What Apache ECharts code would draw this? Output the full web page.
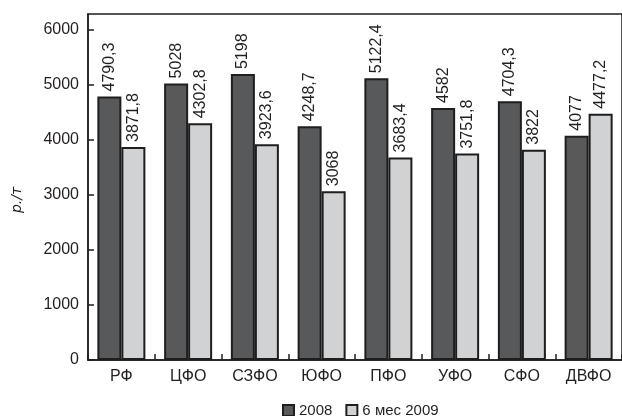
<!DOCTYPE html>
<html>
<head>
<meta charset="utf-8">
<script src="https://cdn.jsdelivr.net/npm/echarts@6/dist/echarts.min.js"></script>
<style>
  html, body { margin: 0; padding: 0; background: #fff; }
  #chart { width: 622px; height: 416px; }
</style>
</head>
<body>
<div id="chart"></div>
<script>
// Федеральные округа
const regions = ['РФ', 'ЦФО', 'СЗФО', 'ЮФО', 'ПФО', 'УФО', 'СФО', 'ДВФО'];
// Средняя цена, р./т
const price2008 = [4790.3, 5028, 5198, 4248.7, 5122.4, 4582, 4704.3, 4077];
const price2009h1 = [3871.8, 4302.8, 3923.6, 3068, 3683.4, 3751.8, 3822, 4477.2];
const seriesNames = ['2008', '6 мес 2009'];
const yTicks = [0, 1000, 2000, 3000, 4000, 5000, 6000];

const FONT = '"Liberation Sans", Arial, sans-serif';
const INK = '#231f20';
const EDGE = '#1e1e1e';

const fmt = v => String(v).replace('.', ',');

const barLabel = {
  show: true,
  position: 'top',
  rotate: 90,
  align: 'left',
  verticalAlign: 'middle',
  distance: 5,
  color: INK,
  fontFamily: FONT,
  fontSize: 16,
  formatter: p => fmt(p.value)
};

const chart = echarts.init(document.getElementById('chart'), null, { renderer: 'canvas' });

chart.setOption({
  animation: false,
  backgroundColor: '#ffffff',
  grid: {
    left: 88, right: -12, top: 14, bottom: 56,
    show: true, borderColor: EDGE, borderWidth: 1.5, backgroundColor: 'transparent'
  },
  legend: {
    left: 277, top: 398,
    itemWidth: 11, itemHeight: 11, itemGap: 13,
    icon: 'rect',
    textStyle: { color: INK, fontFamily: FONT, fontSize: 15 },
    data: seriesNames
  },
  xAxis: {
    type: 'category',
    data: regions,
    axisLine: { lineStyle: { color: EDGE, width: 1.5 } },
    axisTick: { show: true, inside: true, length: 6, alignWithLabel: false, lineStyle: { color: EDGE, width: 1.5 } },
    axisLabel: { color: INK, fontFamily: FONT, fontSize: 16, margin: 9 },
    splitLine: { show: false }
  },
  yAxis: {
    type: 'value',
    min: yTicks[0],
    max: 6290,
    interval: 1000,
    axisLine: { show: true, lineStyle: { color: EDGE, width: 1.5 } },
    axisTick: { show: true, inside: true, length: 6, lineStyle: { color: EDGE, width: 1.5 } },
    axisLabel: {
      color: INK, fontFamily: FONT, fontSize: 16, margin: 9,
      showMaxLabel: false,
      formatter: v => (yTicks.includes(v) ? String(v) : '')
    },
    splitLine: { show: false }
  },
  graphic: [{
    type: 'text',
    x: 17, y: 200,
    rotation: Math.PI / 2,
    style: {
      text: 'р./т',
      fill: INK,
      font: 'oblique 14px "DejaVu Sans", sans-serif',
      textAlign: 'center',
      textVerticalAlign: 'middle'
    }
  }],
  series: [
    {
      name: seriesNames[0],
      type: 'bar',
      data: price2008,
      barWidth: 24,
      barGap: '0%',
      itemStyle: { color: '#58595b', borderColor: EDGE, borderWidth: 2 },
      label: barLabel
    },
    {
      name: seriesNames[1],
      type: 'bar',
      data: price2009h1,
      barWidth: 24,
      barGap: '0%',
      itemStyle: { color: '#d1d2d4', borderColor: EDGE, borderWidth: 2 },
      label: barLabel
    }
  ]
});
</script>
</body>
</html>
